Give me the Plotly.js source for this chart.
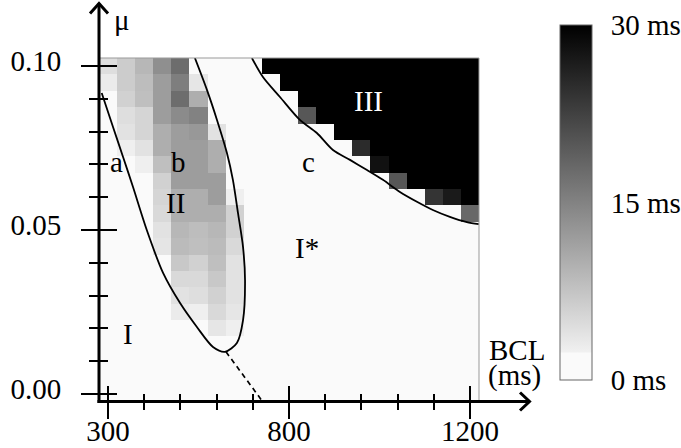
<!DOCTYPE html>
<html>
<head>
<meta charset="utf-8">
<script src="https://cdn.plot.ly/plotly-3.0.1.min.js"></script>
<style>html,body{margin:0;padding:0;background:#fff;}#chart{width:681px;height:448px;}</style>
</head>
<body>
<div id="chart"></div>
<script>
// ---- data ----
// grid columns (BCL grid index); tick labels shown at columns 0, 10, 20
const BCL_COL = [0,1,2,3,4,5,6,7,8,9,10,11,12,13,14,15,16,17,18,19,20];
const BCL_TICK_POS = [0, 10, 20];
const BCL_TICK_TEXT = ['300', '800', '1200'];
const BCL_MINOR_POS = [2, 4, 6, 8, 12, 14, 16, 18];
// mu rows
const MU = [0.000,0.005,0.010,0.015,0.020,0.025,0.030,0.035,0.040,0.045,0.050,
            0.055,0.060,0.065,0.070,0.075,0.080,0.085,0.090,0.095,0.100];
const MU_TICK_POS = [0, 0.05, 0.10];
const MU_TICK_TEXT = ['0.00', '0.05', '0.10'];
const MU_MINOR_POS = [0.01, 0.02, 0.03, 0.04, 0.06, 0.07, 0.08, 0.09];
// delay amplitude (ms), one row per MU value (bottom to top)
const DELAY_MS = [
/*0.000*/ [0,0,0,0,0,0,0,0,0,0,0,0,0,0,0,0,0,0,0,0,0],
/*0.005*/ [0,0,0,0,0,0,0,0,0,0,0,0,0,0,0,0,0,0,0,0,0],
/*0.010*/ [0,0,0,0,0,0,0,0,0,0,0,0,0,0,0,0,0,0,0,0,0],
/*0.015*/ [0,0,0,0,0,0,1.8,0.5,0,0,0,0,0,0,0,0,0,0,0,0,0],
/*0.020*/ [0,0,0,0,0,0,3.5,2.5,0,0,0,0,0,0,0,0,0,0,0,0,0],
/*0.025*/ [0,0,0,0,3,2.5,5,3.5,0,0,0,0,0,0,0,0,0,0,0,0,0],
/*0.030*/ [0,0,0,0,4,4.5,6,4,0,0,0,0,0,0,0,0,0,0,0,0,0],
/*0.035*/ [0,0,0,0,5,5,7,4,0,0,0,0,0,0,0,0,0,0,0,0,0],
/*0.040*/ [0,0,0,0,7,6,8,4,0,0,0,0,0,0,0,0,0,0,0,0,0],
/*0.045*/ [0,0,0,3.7,8.5,8,8.5,5,0,0,0,0,0,0,0,0,0,0,0,0,0],
/*0.050*/ [0,0,0,4,9,8.3,9,6,0,0,0,0,0,0,0,0,0,0,0,0,0],
/*0.055*/ [0,0,0,5,10,10,10,6,0,0,0,0,0,0,0,0,0,0,0,0,18],
/*0.060*/ [0,0,0,5.5,10,10,12,2.5,0,0,0,0,0,0,0,0,0,0,24,27,30],
/*0.065*/ [0,0,0,6,12,12,12,2,0,0,0,0,0,0,0,0,20,30,30,30,30],
/*0.070*/ [0,1,2.5,8,12,12,10,0,0,0,0,0,0,0,0,28,30,30,30,30,30],
/*0.075*/ [0,2.5,4,10,12,12,10,0,0,0,0,0,0,0,25,30,30,30,30,30,30],
/*0.080*/ [0,4,5.5,10,12,12.5,4,0,0,0,0,0,0,30,30,30,30,30,30,30,30],
/*0.085*/ [0,4.5,5.5,12,14,15,0,0,0,0,0,20,30,30,30,30,30,30,30,30,30],
/*0.090*/ [0,6,8,12,17.5,10,0,0,0,0,0,30,30,30,30,30,30,30,30,30,30],
/*0.095*/ [3,6.5,8.3,12,15.5,3.5,0,0,0,0,30,30,30,30,30,30,30,30,30,30,30],
/*0.100*/ [4.5,6.5,9,13.5,17.5,0,0,0,0,30,30,30,30,30,30,30,30,30,30,30,30]
];
const CB_TICK_VALS = [0, 15, 30];
const CB_TICK_TEXT = ['0 ms', '15 ms', '30 ms'];

// boundary of region II (curve through a, II, b)
const LOOP_COL = [-0.35,0.27,0.83,1.38,2.14,3.04,3.98,4.91,5.80,6.46,7.12,7.46,7.57,7.46,7.18,6.90,6.57,6.02,5.47,4.80];
const LOOP_MU  = [0.0918,0.0815,0.0723,0.0631,0.0500,0.0369,0.0277,0.0204,0.0143,0.0128,0.0155,0.0225,0.0347,0.0448,0.0552,0.0653,0.0735,0.0836,0.0927,0.1025];
// dashed continuation
const DASH_COL = [6.52, 8.56];
const DASH_MU  = [0.0128, -0.0025];
// boundary of region III
const EDGE_COL = [7.95,8.56,9.50,10.60,11.54,12.43,13.37,14.31,15.19,16.13,17.07,17.95,18.89,19.83,20.49];
const EDGE_MU  = [0.1025,0.0967,0.0906,0.0836,0.0796,0.0744,0.0714,0.0683,0.0653,0.0616,0.0586,0.0561,0.0540,0.0524,0.0518];

// region labels
const LABEL_TEXT = ['a','b','c','d','I','II','III','I*'];
const LABEL_COL  = [0.44, 3.92, 11.05, 16.13, 1.10, 3.70, 14.42, 10.99];
const LABEL_MU   = [0.0708,0.0708,0.0708,0.0708,0.0183,0.0582,0.0894,0.0445];
const LABEL_COLOR= ['#000','#000','#000','#000','#000','#000','#fff','#000'];

// ---- layout helpers (pixel -> paper) ----
const L = 99, T = 58, W = 380, H = 344;
const px = v => (v - L) / W;
const py = v => (T + H - v) / H;
const FONT = 'Liberation Serif, Times New Roman, serif';

const traces = [
  {
    type: 'heatmap', x: BCL_COL, y: MU, z: DELAY_MS,
    zmin: 0, zmax: 30, zsmooth: false,
    colorscale: [[0,'#fafafa'],[0.075,'#fafafa'],[0.08,'#f0f0f0'],[1,'#000000']],
    hoverinfo: 'skip',
    colorbar: {
      x: px(560), xanchor: 'left', xpad: 0, ypad: 0,
      y: py(202.5), yanchor: 'middle',
      len: 355, lenmode: 'pixels', thickness: 32, thicknessmode: 'pixels',
      outlinewidth: 1, outlinecolor: '#666',
      tickmode: 'array', tickvals: CB_TICK_VALS, ticktext: CB_TICK_TEXT,
      ticks: 'outside', ticklen: 13, tickcolor: 'rgba(0,0,0,0)',
      tickfont: {family: FONT, size: 29, color: '#000'}
    }
  },
  {type:'scatter', mode:'lines', x: LOOP_COL, y: LOOP_MU, line:{color:'#000', width:1.8, shape:'spline', smoothing:0.8}, hoverinfo:'skip', showlegend:false},
  {type:'scatter', mode:'lines', x: DASH_COL, y: DASH_MU, line:{color:'#000', width:1.7, dash:'5px,4px'}, hoverinfo:'skip', showlegend:false},
  {type:'scatter', mode:'lines', x: EDGE_COL, y: EDGE_MU, line:{color:'#000', width:1.8, shape:'spline', smoothing:0.8}, hoverinfo:'skip', showlegend:false},
  {type:'scatter', mode:'lines', x: [], y: [], xaxis:'x2', yaxis:'y2', hoverinfo:'skip', showlegend:false},
  {type:'scatter', mode:'lines', x: [], y: [], xaxis:'x3', yaxis:'y', hoverinfo:'skip', showlegend:false}
];

const tickCommon = {color:'#000', showgrid:false, zeroline:false, showline:false, fixedrange:true};

const layout = {
  width: 681, height: 448,
  margin: {l: L, r: 681 - L - W, t: T, b: 448 - T - H, pad: 0, autoexpand: false},
  paper_bgcolor: '#fff', plot_bgcolor: '#fff',
  font: {family: FONT, size: 29, color: '#000'},
  showlegend: false,
  // main x axis: carries the labels (short tick so labels sit close)
  xaxis: Object.assign({}, tickCommon, {
    range: [-0.5, 20.5], tickmode:'array', tickvals: BCL_TICK_POS, ticktext: BCL_TICK_TEXT,
    ticks:'outside', ticklen: 3, tickwidth: 2, tickcolor:'#000',
    tickfont: {family: FONT, size: 29, color:'#000'}
  }),
  // outer tick marks below the x axis
  xaxis3: Object.assign({}, tickCommon, {
    overlaying:'x', anchor:'y', side:'bottom',
    range: [-0.5, 20.5], tickmode:'array', tickvals: BCL_TICK_POS, showticklabels:false,
    ticks:'outside', ticklen: 16, tickwidth: 2, tickcolor:'#000',
    minor: {tickmode:'array', tickvals: BCL_MINOR_POS, ticks:'outside', ticklen: 7, tickwidth: 2, tickcolor:'#000', showgrid:false}
  }),
  yaxis: Object.assign({}, tickCommon, {
    range: [-0.0025, 0.1025], tickmode:'array', tickvals: MU_TICK_POS, ticktext: MU_TICK_TEXT,
    ticks:'outside', ticklen: 17, tickwidth: 2, tickcolor:'#000', ticklabelstandoff: 14, ticklabelshift: -5,
    minor: {tickmode:'array', tickvals: MU_MINOR_POS, ticks:'outside', ticklen: 9, tickwidth: 2, tickcolor:'#000', showgrid:false},
    tickfont: {family: FONT, size: 29, color:'#000'}
  }),
  // inner tick marks (ticks cross the axis lines)
  xaxis2: Object.assign({}, tickCommon, {
    overlaying:'x', anchor:'y2', side:'bottom',
    range: [-0.5, 20.5], tickmode:'array', tickvals: BCL_TICK_POS, showticklabels:false,
    ticks:'inside', ticklen: 16, tickwidth: 2, tickcolor:'#000',
    minor: {tickmode:'array', tickvals: BCL_MINOR_POS, ticks:'inside', ticklen: 8, tickwidth: 2, tickcolor:'#000', showgrid:false}
  }),
  yaxis2: Object.assign({}, tickCommon, {
    overlaying:'y', anchor:'x2', side:'left',
    range: [-0.0025, 0.1025], tickmode:'array', tickvals: MU_TICK_POS, showticklabels:false,
    ticks:'inside', ticklen: 18, tickwidth: 2, tickcolor:'#000',
    minor: {tickmode:'array', tickvals: MU_MINOR_POS, ticks:'inside', ticklen: 9, tickwidth: 2, tickcolor:'#000', showgrid:false}
  }),
  shapes: [
    // grey frame (top and right)
    {type:'line', xref:'paper', yref:'paper', x0: px(99), x1: px(479), y0: py(58), y1: py(58), line:{color:'#999', width:1}, layer:'above'},
    {type:'line', xref:'paper', yref:'paper', x0: px(479), x1: px(479), y0: py(58), y1: py(402), line:{color:'#999', width:1}, layer:'above'},
    // axis lines with arrows
    {type:'line', xref:'paper', yref:'paper', x0: px(99), x1: px(99), y0: py(403), y1: py(3.5), line:{color:'#000', width:3}, layer:'above'},
    {type:'line', xref:'paper', yref:'paper', x0: px(97.5), x1: px(529.5), y0: py(401.5), y1: py(401.5), line:{color:'#000', width:3}, layer:'above'},
    {type:'path', xref:'paper', yref:'paper', layer:'above', line:{color:'#000', width:3},
      path: `M ${px(90)},${py(13.5)} L ${px(99)},${py(3.5)} L ${px(108)},${py(13.5)}`},
    {type:'path', xref:'paper', yref:'paper', layer:'above', line:{color:'#000', width:3},
      path: `M ${px(520)},${py(392.5)} L ${px(529.5)},${py(401.5)} L ${px(520)},${py(410.5)}`}
  ],
  annotations: LABEL_TEXT.map((t, k) => ({
    text: t, x: LABEL_COL[k], y: LABEL_MU[k], xref:'x', yref:'y', showarrow:false,
    font: {family: FONT, size: 29, color: LABEL_COLOR[k]}, xanchor:'center', yanchor:'middle'
  })).concat([
    {text:'μ', xref:'paper', yref:'paper', x: px(122), y: py(20), showarrow:false, xanchor:'center', yanchor:'middle', font:{family: FONT, size: 29, color:'#000'}},
    {text:'BCL', xref:'paper', yref:'paper', x: px(517), y: py(350), showarrow:false, xanchor:'center', yanchor:'middle', font:{family: FONT, size: 29, color:'#000'}},
    {text:'(ms)', xref:'paper', yref:'paper', x: px(514), y: py(375), showarrow:false, xanchor:'center', yanchor:'middle', font:{family: FONT, size: 29, color:'#000'}}
  ])
};

Plotly.newPlot('chart', traces, layout, {staticPlot: true, displayModeBar: false});
</script>
</body>
</html>
